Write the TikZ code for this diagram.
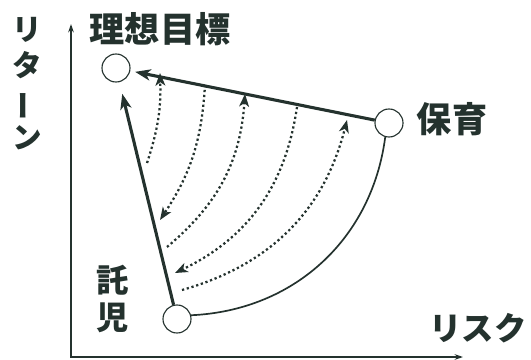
\documentclass[tikz,border=0pt]{standalone}
\usepackage{fontspec}
\setmainfont{Noto Sans CJK JP}
\usetikzlibrary{arrows.meta}

\definecolor{ink}{RGB}{36,50,46}

\tikzset{
  point/.style={circle, draw=ink, line width=0.8pt, minimum size=0.7cm, inner sep=0pt},
  lbl/.style={font=\bfseries\fontsize{25}{27}\selectfont, text=ink, align=center, inner sep=0pt},
  mainarrow/.style={draw=ink, line width=2.2pt, -{Stealth[length=11pt,width=8pt,inset=3pt]}},
  dotarrow/.style={draw=ink, line width=1.6pt, dash pattern=on 1.6pt off 1.9pt, -{Stealth[length=9pt,width=7pt,inset=2.5pt]}},
  axis/.style={draw=ink, line width=1.1pt, {Stealth[length=6pt,width=4pt]}-{Stealth[length=6pt,width=4pt]}},
}

\begin{document}
\begin{tikzpicture}[x=0.025cm, y=-0.025cm]
  \useasboundingbox (0,0) rectangle (531,360);

  % Ejes
  \coordinate (ytip) at (71,24);
  \coordinate (origen) at (71,357);
  \coordinate (xtip) at (463,357);
  \draw[axis] (ytip) -- (origen) -- (xtip);

  % Puntos
  \node[point] (mokuhyo) at (116,68) {};
  \node[point] (hoiku) at (389,123) {};
  \node[point] (takuji) at (177,319) {};

  % Textos
  \node[lbl] (mokuhyolbl) at (160,29) {理想目標};
  \node[lbl] (hoikulbl) at (452,119) {保育};
  \node[lbl, font=\bfseries\fontsize{23}{27}\selectfont] (takujilbl) at (113,299) {託\\児};
  \node[lbl, font=\bfseries\fontsize{23}{25}\selectfont] (risklbl) at (478,328) {リスク};
  \node[lbl, font=\bfseries\fontsize{21}{25.6}\selectfont] (returnlbl) at (27,84)
    {リ\\タ\\\rotatebox[origin=c]{90}{ー}\\ン};

  % Flechas gruesas
  \draw[mainarrow, shorten >=3.5pt] (hoiku) -- (mokuhyo);
  \draw[mainarrow, shorten >=8.5pt] (takuji) -- (mokuhyo);

  % Arco
  \draw[draw=ink, line width=1.2pt] (takuji.15) to[bend right=40] (hoiku.-105);

  % Arcos punteados
  \coordinate (a1) at (147,163);
  \coordinate (a2) at (160,220);
  \coordinate (a3) at (167,247);
  \coordinate (a4) at (175,273);
  \coordinate (a5) at (182,290);
  \coordinate (t1) at (160,73);
  \coordinate (t2) at (205,85);
  \coordinate (t3) at (245,94);
  \coordinate (t4) at (297,107);
  \coordinate (t5) at (347,120);
  \draw[dotarrow] (a1) to[bend right=10] (t1);
  \draw[dotarrow] (t2) to[bend left=15] (a2);
  \draw[dotarrow] (a3) to[bend right=23] (t3);
  \draw[dotarrow] (t4) to[bend left=28] (a4);
  \draw[dotarrow] (a5) to[bend right=30] (t5);
\end{tikzpicture}
\end{document}
